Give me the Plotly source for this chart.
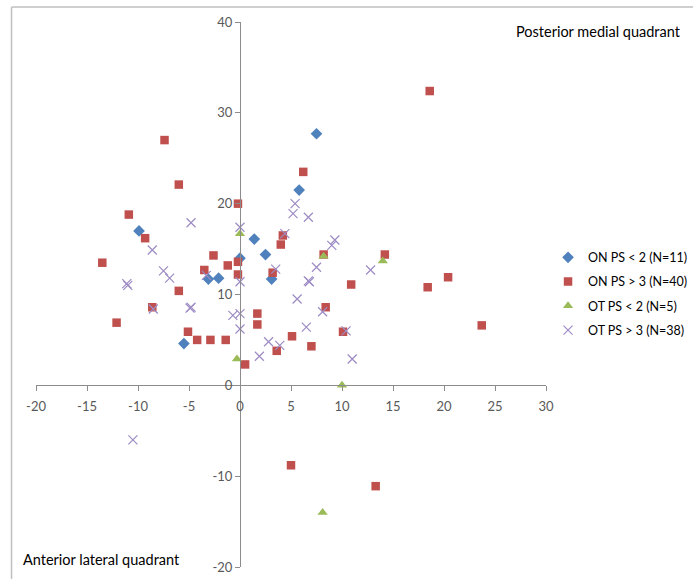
import plotly.graph_objects as go

# ON PS < 2
on_lt2_x = [-9.9, -3.1, -2.1, -5.5, 0.0, 7.5, 5.8, 1.4, 2.5, 3.1]
on_lt2_y = [17.0, 11.7, 11.8, 4.6, 14.0, 27.7, 21.5, 16.1, 14.4, 11.7]

# ON PS > 3
on_gt3_x = [-7.4, -6.0, -0.2, -10.9, -9.3, -13.5, -2.6, -3.5, -1.2, -0.2, -0.2, -6.0, -8.6,
            -12.1, -5.1, -4.2, -2.9, -1.4, 0.5, 6.2, 4.2, 4.0, 3.2, 8.2, 14.2, 10.9, 8.4, 1.7,
            1.7, 5.1, 10.1, 7.0, 3.6, 18.6, 20.4, 18.4, 23.7, 5.0, 13.3]
on_gt3_y = [27.0, 22.1, 20.0, 18.8, 16.2, 13.5, 14.3, 12.7, 13.2, 13.6, 12.2, 10.4, 8.6,
            6.9, 5.9, 5.0, 5.0, 5.0, 2.3, 23.5, 16.5, 15.5, 12.4, 14.4, 14.4, 11.1, 8.6, 7.9,
            6.7, 5.4, 5.9, 4.3, 3.8, 32.4, 11.9, 10.8, 6.6, -8.8, -11.1]

# OT PS < 2
ot_lt2_x = [0.0, -0.3, 8.2, 14.0, 10.0, 8.1]
ot_lt2_y = [16.7, 2.9, 14.2, 13.7, 0.0, -14.0]

# OT PS > 3
ot_gt3_x = [-4.8, -8.6, -7.5, -6.9, -11.1, -11.0, -8.5, -4.9, -4.8, -3.3, 0.0, 0.0, -0.7,
            0.0, 0.0, 5.4, 5.2, 6.7, 4.4, 3.5, 6.7, 6.8, 5.6, 7.5, 9.0, 9.3, 12.8, 8.1,
            6.5, 10.4, 11.0, 2.8, 3.9, 1.9, -10.5]
ot_gt3_y = [17.9, 14.9, 12.6, 11.8, 11.2, 11.0, 8.4, 8.5, 8.6, 12.1, 17.4, 11.4, 7.7,
            7.9, 6.2, 20.0, 18.9, 18.5, 16.7, 12.8, 11.5, 11.4, 9.5, 13.0, 15.4, 16.0, 12.7, 8.1,
            6.4, 6.0, 2.9, 4.8, 4.4, 3.2, -6.0]

names = ["ON PS < 2 (N=11)", "ON PS > 3 (N=40)", "OT PS < 2 (N=5)", "OT PS > 3 (N=38)"]

x_ticks = [-20, -15, -10, -5, 0, 5, 10, 15, 20, 25, 30]
x_tick_labels = ["-20", "-15", "-10", "-5", "0", "5", "10", "15", "20", "25", "30"]
y_ticks = [-20, -10, 0, 10, 20, 30, 40]
y_tick_labels = ["-20", "-10", "0", "10", "20", "30", "40"]

FONT = "Lato, Open Sans, sans-serif"

fig = go.Figure()
fig.add_trace(go.Scatter(x=on_lt2_x, y=on_lt2_y, mode="markers", name=names[0], legendgroup="a",
                         marker=dict(symbol="diamond", size=9, color="#4F81BD")))
fig.add_trace(go.Scatter(x=on_gt3_x, y=on_gt3_y, mode="markers", name=names[1], legendgroup="b",
                         marker=dict(symbol="square", size=8.5, color="#C0504D")))
fig.add_trace(go.Scatter(x=ot_lt2_x, y=ot_lt2_y, mode="markers", name=names[2], legendgroup="c",
                         marker=dict(symbol="triangle-up", size=9, color="#9BBB59")))
fig.add_trace(go.Scatter(x=ot_gt3_x, y=ot_gt3_y, mode="markers", name=names[3], legendgroup="d",
                         marker=dict(symbol="x-thin", size=9, color="#9D8BC4",
                                     line=dict(width=1.2, color="#9D8BC4"))))

axis_common = dict(showgrid=False, zeroline=False, showline=True, linecolor="#8C8C8C",
                   linewidth=1, ticks="outside", ticklen=5, tickcolor="#8C8C8C",
                   tickfont=dict(family=FONT, size=13, color="#595959"))

fig.update_layout(
    width=693, height=579,
    margin=dict(l=36, r=147, t=22, b=12, autoexpand=False),
    paper_bgcolor="white", plot_bgcolor="white",
    xaxis=dict(range=[-20, 30], tickmode="array", tickvals=x_ticks, ticktext=x_tick_labels,
               anchor="free", position=1/3, ticklabelstandoff=4, **axis_common),
    yaxis=dict(range=[-20, 40], tickmode="array", tickvals=y_ticks, ticktext=y_tick_labels,
               anchor="free", position=0.4, **axis_common),
    legend=dict(x=1.004, y=0.595, xanchor="left", yanchor="top",
                font=dict(family=FONT, size=12.5, color="#000000"),
                traceorder="grouped", tracegroupgap=5, itemwidth=30),
    showlegend=True,
    annotations=[
        dict(text="Posterior medial quadrant", xref="paper", yref="paper",
             x=1.269, y=0.982, xanchor="right", yanchor="middle", showarrow=False,
             font=dict(family=FONT, size=14.5, color="#000000")),
        dict(text="Anterior lateral quadrant", xref="paper", yref="paper",
             x=-0.03, y=0.013, xanchor="left", yanchor="middle", showarrow=False,
             font=dict(family=FONT, size=14.5, color="#000000")),
    ],
    shapes=[
        dict(type="line", xref="paper", yref="paper", x0=-0.048, x1=1.3, y0=1.0275, y1=1.0275,
             line=dict(color="#BFBFBF", width=1.5)),
        dict(type="line", xref="paper", yref="paper", x0=-0.048, x1=-0.048, y0=-0.03, y1=1.0275,
             line=dict(color="#BFBFBF", width=1.5)),
    ],
)

fig.write_html("out.html", config={"displayModeBar": False},
               post_script="document.body.style.margin='0px';")
